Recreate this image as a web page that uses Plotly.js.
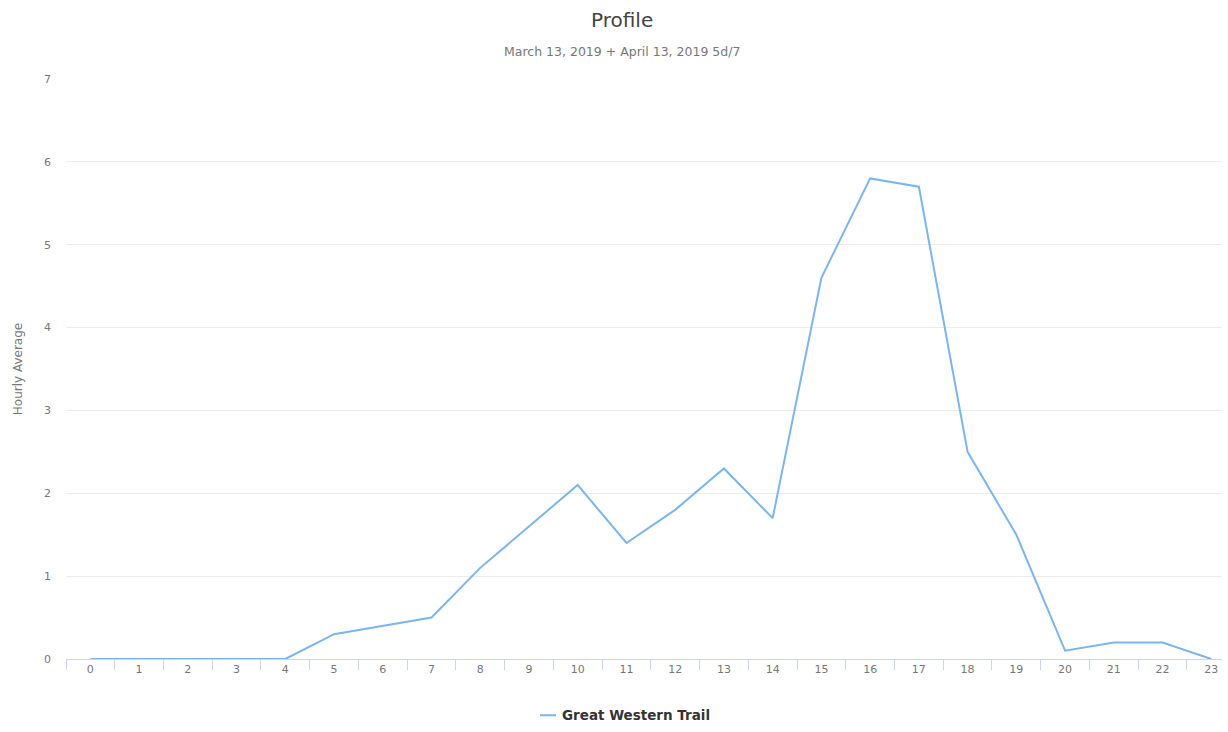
<!DOCTYPE html>
<html>
<head>
<meta charset="utf-8">
<script src="https://cdn.plot.ly/plotly-3.0.1.min.js"></script>
<style>html,body{margin:0;padding:0;background:#fff;}#chart{width:1228px;height:732px;}</style>
</head>
<body>
<div id="chart"></div>
<script>
const hours = ["0","1","2","3","4","5","6","7","8","9","10","11","12","13","14","15","16","17","18","19","20","21","22","23"];
const hourlyAverage = [0,0,0,0,0,0.3,0.4,0.5,1.1,1.6,2.1,1.4,1.8,2.3,1.7,4.6,5.8,5.7,2.5,1.5,0.1,0.2,0.2,0];
const seriesName = "Great Western Trail";
const titleText = "Profile";
const subtitleText = "March 13, 2019 + April 13, 2019 5d/7";
const yTitle = "Hourly Average";

const font = "'DejaVu Sans', sans-serif";
const lineColor = "#7cb5ec";

const trace = {
  x: hours, y: hourlyAverage, type: "scatter", mode: "lines",
  name: seriesName,
  line: {color: lineColor, width: 2}
};

const layout = {
  width: 1228, height: 732,
  margin: {l: 66, r: 6, t: 79, b: 73},
  paper_bgcolor: "#fff", plot_bgcolor: "#fff",
  font: {family: font, color: "#777", size: 11},
  showlegend: false,
  xaxis: {type: "category", range: [-0.5, 23.22], tickson: "boundaries",
    ticks: "outside", ticklen: 10, tickcolor: "#ccd6eb", showline: true, linecolor: "#ccd6eb",
    showgrid: false, zeroline: false, tickfont: {size: 11, color: "#777"}, fixedrange: true},
  yaxis: {range: [0, 7], dtick: 1, showgrid: true, gridcolor: "#ececec", zeroline: false,
    showline: false, tickfont: {size: 11, color: "#777"}, ticklabelstandoff: 14,
    title: {text: yTitle, font: {size: 12, color: "#777"}, standoff: 18}},
  shapes: [
    {type: "line", xref: "paper", yref: "paper", x0: 0.410, x1: 0.4239, y0: -0.097, y1: -0.097,
     line: {color: lineColor, width: 2}}
  ],
  annotations: [
    {text: titleText, xref: "paper", yref: "paper", x: 0.481, y: 1.1017, xanchor: "center", yanchor: "middle",
     showarrow: false, font: {family: font, size: 20, color: "#444"}},
    {text: subtitleText, xref: "paper", yref: "paper", x: 0.481, y: 1.0466, xanchor: "center", yanchor: "middle",
     showarrow: false, font: {family: font, size: 12.5, color: "#777"}},
    {text: "<b>" + seriesName + "</b>", xref: "paper", yref: "paper", x: 0.4273, y: -0.097, xanchor: "left", yanchor: "middle",
     showarrow: false, font: {family: font, size: 13.5, color: "#333"}}
  ]
};

Plotly.newPlot("chart", [trace], layout, {displayModeBar: false, staticPlot: true});
</script>
</body>
</html>
